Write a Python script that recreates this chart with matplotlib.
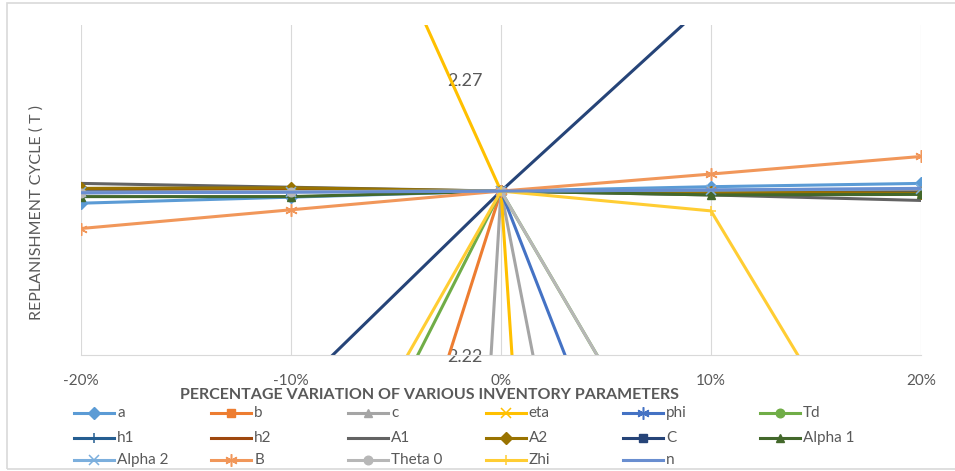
import matplotlib
matplotlib.use("Agg")
import matplotlib.pyplot as plt
from matplotlib.lines import Line2D
from matplotlib.patches import Rectangle

plt.rcParams['font.family'] = ['Lato', 'DejaVu Sans']

W, H = 955, 471

categories = ["-20%", "-10%", "0%", "10%", "20%"]
x = list(range(len(categories)))

# replenishment cycle T for each parameter at -20%, -10%, 0%, +10%, +20%
a      = [2.2476, 2.2487, 2.2498, 2.2506, 2.2512]
b      = [2.0090, 2.1294, 2.2498, 2.2499, 2.2499]
c      = [0.9900, 1.6200, 2.2498, 2.0540, 1.8580]
eta    = [2.4190, 2.3343, 2.2498, 1.6800, 1.1100]
phi    = [2.2495, 2.2497, 2.2498, 2.1520, 2.0540]
Td     = [2.0994, 2.1746, 2.2498, 2.1846, 2.1194]
h1     = [2.2500, 2.2499, 2.2498, 2.2497, 2.2496]
h2     = [2.2502, 2.2500, 2.2498, 2.2496, 2.2494]
A1     = [2.2512, 2.2505, 2.2498, 2.2491, 2.2481]
A2     = [2.2503, 2.2504, 2.2498, 2.2496, 2.2494]
C      = [2.1754, 2.2126, 2.2498, 2.2847, 2.3196]
alpha1 = [2.2488, 2.2488, 2.2498, 2.2491, 2.2492]
alpha2 = [2.2496, 2.2497, 2.2498, 2.2500, 2.2502]
B      = [2.2430, 2.2464, 2.2498, 2.2529, 2.2561]
theta0 = [2.2495, 2.2497, 2.2498, 2.1846, 2.1194]
zhi    = [2.1158, 2.1828, 2.2498, 2.2462, 2.1828]
n      = [2.2495, 2.2496, 2.2498, 2.2500, 2.2503]

names = ["a", "b", "c", "eta", "phi", "Td", "h1", "h2", "A1", "A2", "C",
         "Alpha 1", "Alpha 2", "B", "Theta 0", "Zhi", "n"]
values = [a, b, c, eta, phi, Td, h1, h2, A1, A2, C, alpha1, alpha2, B, theta0, zhi, n]
colors = ["#5B9BD5", "#ED7D31", "#A5A5A5", "#FFC000", "#4472C4", "#70AD47",
          "#255E91", "#9E480E", "#636363", "#997300", "#264478", "#43682B",
          "#7CAFDD", "#F1975A", "#B7B7B7", "#FFCD33", "#698ED0"]
markers = ["D", "s", "^", "x", (6, 2, 0), "o", "+", None, None, "D", "s", "^",
           "x", (6, 2, 0), "o", "+", None]


def marker_style(m):
    # rough match of excel's default marker sizes
    if m in ("x", "+"):
        return dict(markersize=7.5, markeredgewidth=1.1)
    if isinstance(m, tuple):
        return dict(markersize=9, markeredgewidth=1.1)
    if m == "s":
        return dict(markersize=6)
    return dict(markersize=6.2)


fig = plt.figure(figsize=(W / 100, H / 100), dpi=100)
fig.patches.append(Rectangle((7 / W, 2 / H), (W - 2) / W, 466 / H, transform=fig.transFigure,
                             fill=False, edgecolor="#D9D9D9", linewidth=1.2))

ax = fig.add_axes([81 / W, (H - 355) / H, 840 / W, 330 / H])

for name, vals, col, m in zip(names, values, colors, markers):
    kw = dict(color=col, linewidth=2.2, label=name)
    if m is not None:
        kw.update(marker=m, markerfacecolor=col, markeredgecolor=col, **marker_style(m))
    ax.plot(x, vals, **kw)

ax.set_xlim(0, 4)
ax.set_ylim(2.22, 2.28)
ax.set_xticks(x)
ax.set_xticklabels(categories)
ax.set_yticks([2.22, 2.27])
ax.set_yticklabels(["2.22", "2.27"])
ax.grid(axis="x", color="#D9D9D9", linewidth=0.8)
ax.set_axisbelow(True)

for s in ("top", "right"):
    ax.spines[s].set_visible(False)
ax.spines["bottom"].set_color("#D9D9D9")
ax.spines["bottom"].set_linewidth(0.8)
# vertical axis crosses at the 0% category
ax.spines["left"].set_position(("data", 2))
ax.spines["left"].set_color("none")
ax.tick_params(axis="x", length=0, pad=14, labelsize=11, colors="#595959")
ax.tick_params(axis="y", length=0, pad=13, labelsize=13, colors="#595959")

fig.text(429 / W, (H - 395) / H, "PERCENTAGE VARIATION OF VARIOUS INVENTORY PARAMETERS",
         ha="center", va="center", fontsize=11.5, fontweight="bold", color="#595959")
fig.text(37 / W, (H - 212) / H, "REPLANISHMENT CYCLE ( T )", rotation=90,
         ha="center", va="center", fontsize=11.5, color="#595959")

# legend, laid out row by row like excel
row_y = [413, 438, 460]
for i, (name, col, m) in enumerate(zip(names, colors, markers)):
    r, k = divmod(i, 6)
    x0 = 74 + 137.2 * k
    yy = (H - row_y[r]) / H
    kw = dict(color=col, linewidth=2.2)
    if m is not None:
        kw.update(marker=m, markerfacecolor=col, markeredgecolor=col, markevery=[1],
                  **marker_style(m))
    fig.add_artist(Line2D([x0 / W, (x0 + 20) / W, (x0 + 40) / W], [yy] * 3,
                          transform=fig.transFigure, **kw))
    fig.text((x0 + 43) / W, yy, name, ha="left", va="center", fontsize=11, color="#595959")

plt.savefig("out.png", dpi=100)
